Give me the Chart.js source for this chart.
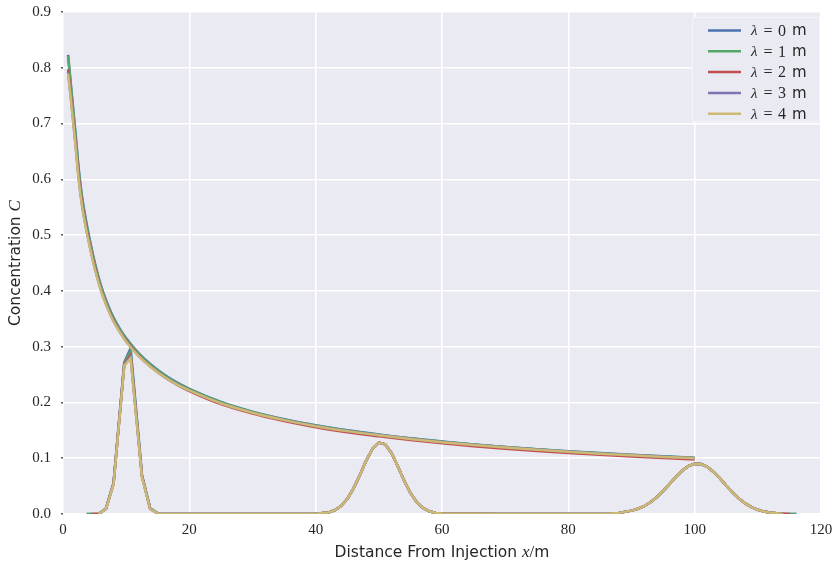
<!DOCTYPE html>
<html>
<head>
<meta charset="utf-8">
<script src="https://cdn.jsdelivr.net/npm/chart.js@4/dist/chart.umd.min.js"></script>
<style>
  html, body { margin: 0; padding: 0; background: #fff; }
  #wrap { width: 834px; height: 563px; }
</style>
</head>
<body>
<div id="wrap"><canvas id="chart" width="834" height="563"></canvas></div>
<script>
// one curve set per lambda
const lambdas = [0, 1, 2, 3, 4]
const colors = ['#4C72B0', '#55A868', '#C44E52', '#8172B2', '#CCB974']

const xTicks = [0, 20, 40, 60, 80, 100, 120]
const yTicks = [0, 0.1, 0.2, 0.3, 0.4, 0.5, 0.6, 0.7, 0.8, 0.9]

// peak concentration vs distance
const envX = [0.8, 1, 1.5, 2, 2.5, 3, 3.5, 4, 5, 6, 7, 8, 9, 10, 12, 14, 16, 18, 20, 25, 30, 35, 40, 45, 50, 55, 60, 65, 70, 75, 80, 85, 90, 95, 100]
const env0 = [0.823, 0.800, 0.740, 0.680, 0.618, 0.570, 0.535, 0.505, 0.452, 0.410, 0.378, 0.352, 0.332, 0.315, 0.288, 0.267, 0.250, 0.236, 0.2245, 0.201, 0.1835, 0.170, 0.159, 0.150, 0.1425, 0.1357, 0.130, 0.1248, 0.1203, 0.1162, 0.1125, 0.1092, 0.1062, 0.1034, 0.1008]
const env1 = [0.821, 0.797, 0.736, 0.676, 0.614, 0.567, 0.532, 0.502, 0.450, 0.408, 0.376, 0.3505, 0.3305, 0.314, 0.287, 0.266, 0.249, 0.235, 0.2237, 0.2004, 0.183, 0.1695, 0.1586, 0.1497, 0.1422, 0.1354, 0.1297, 0.1245, 0.1200, 0.1159, 0.1122, 0.1089, 0.1059, 0.1031, 0.1005]
const env2 = [0.797, 0.778, 0.724, 0.666, 0.605, 0.559, 0.525, 0.496, 0.445, 0.403, 0.372, 0.347, 0.327, 0.311, 0.284, 0.263, 0.246, 0.232, 0.2205, 0.197, 0.180, 0.1665, 0.1555, 0.1466, 0.1392, 0.1325, 0.1268, 0.1216, 0.1171, 0.1130, 0.1093, 0.1060, 0.1030, 0.1002, 0.0976]
const env3 = [0.792, 0.772, 0.717, 0.660, 0.600, 0.555, 0.522, 0.493, 0.442, 0.402, 0.371, 0.346, 0.3265, 0.3095, 0.2835, 0.263, 0.2463, 0.2328, 0.2218, 0.1988, 0.1818, 0.1686, 0.1578, 0.1489, 0.1415, 0.1348, 0.1291, 0.1240, 0.1195, 0.1155, 0.1118, 0.1085, 0.1055, 0.1027, 0.1001]
const env4 = [0.790, 0.770, 0.715, 0.658, 0.598, 0.553, 0.520, 0.492, 0.441, 0.401, 0.370, 0.345, 0.326, 0.309, 0.283, 0.2625, 0.246, 0.2325, 0.2215, 0.1985, 0.1815, 0.1683, 0.1575, 0.1486, 0.1412, 0.1345, 0.1288, 0.1237, 0.1192, 0.1152, 0.1115, 0.1082, 0.1052, 0.1024, 0.0998]
const envelopes = [env0, env1, env2, env3, env4]

// first pulse (coarse, differs per lambda)
const pulse1X = [3.75, 5.6, 6.8, 8.0, 9.7, 10.7, 12.5, 13.8, 15.2]
const pulse1Y0 = [0, 0, 0.010, 0.056, 0.272, 0.297, 0.070, 0.010, 0]
const pulse1Y1 = [0, 0, 0.010, 0.055, 0.271, 0.291, 0.069, 0.010, 0]
const pulse1Y2 = [0, 0, 0.009, 0.054, 0.268, 0.285, 0.068, 0.009, 0]
const pulse1Y3 = [0, 0, 0.009, 0.054, 0.267, 0.282, 0.067, 0.009, 0]
const pulse1Y4 = [0, 0, 0.009, 0.053, 0.266, 0.279, 0.066, 0.009, 0]
const pulse1Ys = [pulse1Y0, pulse1Y1, pulse1Y2, pulse1Y3, pulse1Y4]

// later pulses near x = 50 and x = 100
const tailX = [25, 40, 42, 43, 44, 45, 46, 47, 48, 49, 50, 51, 52, 53, 54, 55, 56, 57, 58, 59, 60, 70, 84, 86, 88, 90, 91, 92, 93, 94, 95, 96, 97, 98, 99, 100, 101, 102, 103, 104, 105, 106, 107, 108, 109, 110, 111, 112, 113, 114, 116.1]
const tailY = [0, 0.0004, 0.0028, 0.0067, 0.0142, 0.027, 0.046, 0.070, 0.0957, 0.117, 0.1279, 0.125, 0.1095, 0.0857, 0.060, 0.0377, 0.0211, 0.0106, 0.0048, 0.0019, 0.0007, 0, 0.0002, 0.0005, 0.002, 0.006, 0.0095, 0.0140, 0.0210, 0.030, 0.041, 0.0537, 0.0662, 0.0775, 0.0858, 0.0901, 0.0896, 0.0845, 0.0754, 0.0638, 0.051, 0.0388, 0.0279, 0.019, 0.0122, 0.0075, 0.0043, 0.0024, 0.0012, 0.0006, 0.0001]

// where each pulse line starts / ends
const pulseStart = [3.75, 3.75, 4.5, 5.6, 5.6]
const pulseEnd = [116.1, 116.1, 115.1, 114, 114]

const pulseData = i => {
    const xs = pulse1X.concat(tailX)
    const ys = pulse1Ys[i].concat(tailY)
    const pts = [{ x: pulseStart[i], y: 0 }]
    xs.forEach((x, k) => {
        if (x > pulseStart[i] && x < pulseEnd[i]) pts.push({ x: x, y: ys[k] })
    })
    pts.push({ x: pulseEnd[i], y: ys[xs.length - 1] })
    return pts
}

const BG = '#EAEAF2'
const TEXT = '#262626'
const SANS = "'DejaVu Sans', sans-serif"
const SERIF = "'Liberation Serif', serif"
const LW = 2.5

const datasets = []
lambdas.forEach((l, i) => {
    datasets.push({
        label: 'λ = ' + l + ' m',
        data: envX.map((x, k) => ({ x: x, y: envelopes[i][k] })),
        borderColor: colors[i],
        borderWidth: LW,
        pointRadius: 0,
        cubicInterpolationMode: 'monotone',
        order: 10 - 2 * i
    })
    datasets.push({
        label: 'pulse ' + l,
        data: pulseData(i),
        borderColor: colors[i],
        borderWidth: LW,
        pointRadius: 0,
        tension: 0,
        order: 9 - 2 * i
    })
})

// draw text made of pieces in different fonts
function drawPieces(ctx, pieces, x, y) {
    let w = 0
    pieces.forEach(p => { ctx.font = p.font; w += ctx.measureText(p.t).width })
    let cx = x - w / 2
    pieces.forEach(p => {
        ctx.font = p.font
        ctx.fillText(p.t, cx, y)
        cx += ctx.measureText(p.t).width
    })
}

const decor = {
    id: 'decor',
    beforeDraw(chart) {
        const { ctx, chartArea: a } = chart
        ctx.save()
        ctx.fillStyle = BG
        ctx.fillRect(a.left, a.top, a.right - a.left, a.bottom - a.top)
        ctx.restore()
    },
    afterDraw(chart) {
        const { ctx, chartArea: a } = chart
        ctx.save()
        ctx.fillStyle = TEXT
        ctx.textAlign = 'left'
        ctx.textBaseline = 'alphabetic'

        // x axis title
        drawPieces(ctx, [
            { t: 'Distance From Injection ', font: '15.5px ' + SANS },
            { t: 'x', font: 'italic 17px ' + SERIF },
            { t: '/', font: '17px ' + SERIF },
            { t: 'm', font: '15.5px ' + SANS }
        ], (a.left + a.right) / 2, 557)

        // y axis title
        ctx.save()
        ctx.translate(20, (a.top + a.bottom) / 2)
        ctx.rotate(-Math.PI / 2)
        drawPieces(ctx, [
            { t: 'Concentration ', font: '15.5px ' + SANS },
            { t: 'C', font: 'italic 17px ' + SERIF }
        ], 0, 0)
        ctx.restore()

        // legend box, top right inside the axes
        const lx = 692, ly = 17, lw = 128, lh = 105
        ctx.fillStyle = BG
        ctx.fillRect(lx, ly, lw, lh)
        ctx.strokeStyle = 'rgba(255,255,255,0.5)'
        ctx.lineWidth = 1
        ctx.strokeRect(lx + 0.5, ly + 0.5, lw - 1, lh - 1)

        lambdas.forEach((l, i) => {
            const y = 30.5 + i * 20.8
            ctx.strokeStyle = colors[i]
            ctx.lineWidth = 2.5
            ctx.beginPath()
            ctx.moveTo(708, y)
            ctx.lineTo(741, y)
            ctx.stroke()
            ctx.fillStyle = TEXT
            ctx.textBaseline = 'middle'
            ctx.font = 'italic 15px ' + SERIF
            ctx.fillText('λ', 751, y + 1)
            ctx.font = '16px ' + SERIF
            ctx.fillText('=', 763.5, y + 1)
            ctx.fillText(String(l), 778, y + 1)
            ctx.font = '15px ' + SANS
            ctx.fillText('m', 792, y + 1)
        })
        ctx.restore()
    }
}

new Chart(document.getElementById('chart'), {
    type: 'line',
    data: { datasets: datasets },
    options: {
        responsive: false,
        animation: false,
        devicePixelRatio: 1,
        layout: { padding: { top: 12, right: 13, left: 0, bottom: 0 } },
        plugins: {
            legend: { display: false },
            tooltip: { enabled: false }
        },
        scales: {
            x: {
                type: 'linear',
                min: 0,
                max: 120,
                afterBuildTicks: s => { s.ticks = xTicks.map(v => ({ value: v })) },
                afterFit: s => { s.height = 49; s.paddingLeft = 0; s.paddingRight = 0 },
                grid: { color: '#ffffff', lineWidth: 1.6, drawTicks: false },
                border: { display: false },
                ticks: {
                    padding: 7,
                    maxRotation: 0,
                    color: TEXT,
                    font: { family: SERIF, size: 15 },
                    callback: v => String(v)
                }
            },
            y: {
                type: 'linear',
                min: 0,
                max: 0.9,
                afterBuildTicks: s => { s.ticks = yTicks.map(v => ({ value: v })) },
                afterFit: s => { s.width = 63; s.paddingTop = 0; s.paddingBottom = 0 },
                grid: { color: '#ffffff', lineWidth: 1.6, tickLength: 2, tickColor: '#555' },
                border: { display: false },
                ticks: {
                    padding: 10,
                    color: TEXT,
                    font: { family: SERIF, size: 15 },
                    callback: v => v.toFixed(1)
                }
            }
        }
    },
    plugins: [decor]
})
</script>
</body>
</html>
